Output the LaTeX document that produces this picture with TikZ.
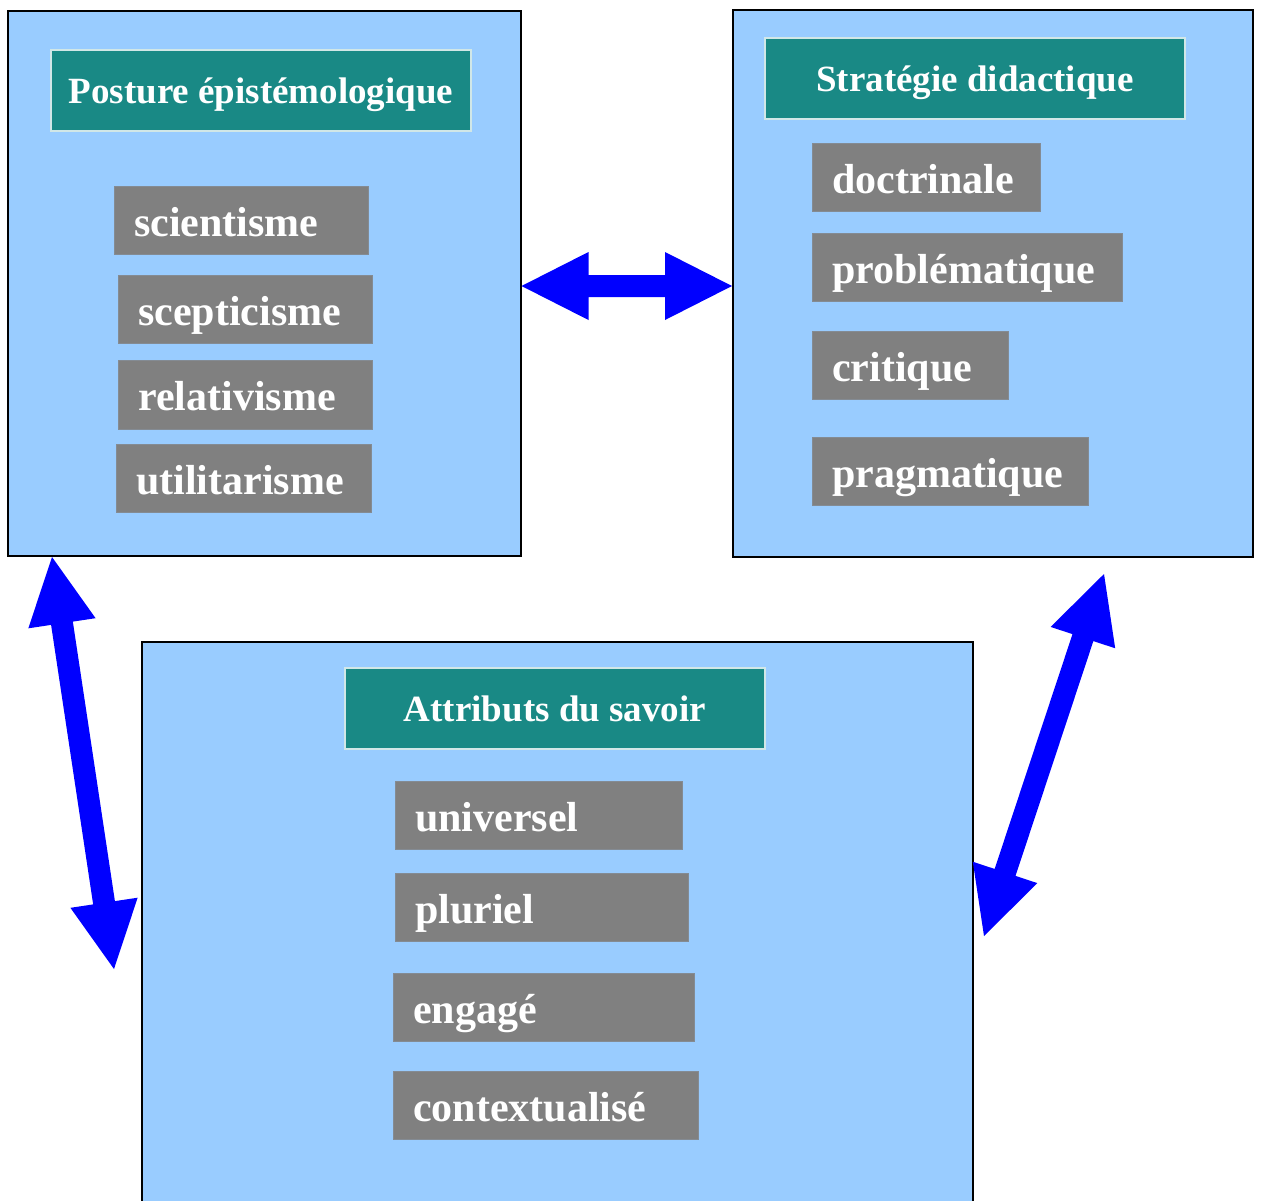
\documentclass[tikz,border=0pt]{standalone}
\usepackage{fontspec}
\setmainfont{Liberation Serif}
\usetikzlibrary{calc,positioning}
\definecolor{panelblue}{HTML}{99CCFF}
\definecolor{tealbox}{HTML}{198985}
\definecolor{grayboxc}{HTML}{808080}
\definecolor{arrowblue}{HTML}{0000FF}
\tikzset{
  panel/.style={draw=black, line width=2pt, fill=panelblue, anchor=north west, inner sep=0pt, outer sep=0pt},
  titlebox/.style={draw=white!80!tealbox, line width=1.2pt, fill=tealbox, minimum width=420pt, minimum height=81pt,
    inner sep=0pt, text=white, font=\fontsize{37}{40}\selectfont\bfseries, text height=25pt, text depth=0pt},
  graybox/.style={draw=grayboxc!85!panelblue, line width=0.8pt, fill=grayboxc, inner sep=0pt, outer sep=0pt},
  graytext/.style={anchor=base west, inner sep=0pt, text=white, font=\fontsize{42}{46}\selectfont\bfseries},
  blockarrow/.style={fill=arrowblue, draw=none}
}
\newcommand{\gbox}[6]{%
  \node[graybox, minimum width={#4-#2}, minimum height={#5-#3}] (#1) at ({(#2+#4)/2},{(#3+#5)/2}) {};
  \node[graytext] (#1t) at ($(#1.west)+(20,16)$) {#6};}
% block arrow between two named coordinates
\newcommand{\barrow}[2]{%
  \coordinate (ha) at ($(#1)!67pt!(#2)$);
  \coordinate (hb) at ($(#2)!67pt!(#1)$);
  \path[blockarrow] (#1) -- ($(ha)!34pt!90:(#1)$) -- ($(ha)!11pt!90:(#1)$)
    -- ($(hb)!11pt!-90:(#2)$) -- ($(hb)!34pt!-90:(#2)$) -- (#2)
    -- ($(hb)!34pt!90:(#2)$) -- ($(hb)!11pt!90:(#2)$)
    -- ($(ha)!11pt!-90:(#1)$) -- ($(ha)!34pt!-90:(#1)$) -- cycle;}
\begin{document}
\begin{tikzpicture}[x=1pt,y=-1pt]
\useasboundingbox (0,0) rectangle (1261,1200);
\clip (0,0) rectangle (1261,1200);
% panels
\node[panel, minimum width=513pt, minimum height=545pt] (L) at (8,11) {};
\node[panel, minimum width=520pt, minimum height=547pt] (R) at (733,10) {};
\node[panel, minimum width=831pt, minimum height=580pt] (B) at (142,642) {};
% titles
\node[titlebox] (Lt) at (261,90.5) {Posture épistémologique};
\node[titlebox] (Rt) at (975,78.5) {Stratégie didactique};
\node[titlebox] (Bt) at (555,708.5) {Attributs du savoir};
% left items
\gbox{l1}{114}{186}{368}{254}{scientisme}
\gbox{l2}{118}{275}{372}{343}{scepticisme}
\gbox{l3}{118}{360}{372}{429}{relativisme}
\gbox{l4}{116}{444}{371}{512}{utilitarisme}
% right items
\gbox{r1}{812}{143}{1040}{211}{doctrinale}
\gbox{r2}{812}{233}{1122}{301}{problématique}
\gbox{r3}{812}{331}{1008}{399}{critique}
\gbox{r4}{812}{437}{1088}{505}{pragmatique}
% bottom items
\gbox{b1}{395}{781}{682}{849}{universel}
\gbox{b2}{395}{873}{688}{941}{pluriel}
\gbox{b3}{393}{973}{694}{1041}{engagé}
\gbox{b4}{393}{1071}{698}{1139}{contextualisé}
% arrow end points
\coordinate (h1) at ($(L.east)+(0.5,2.5)$);
\coordinate (h2) at ($(R.west)+(-1,2.5)$);
\coordinate (v1) at ($(L.south west)+(44,1)$);
\coordinate (v2) at (114,969);
\coordinate (d1) at (1104,574);
\coordinate (d2) at (984,936);
\barrow{h1}{h2}
\barrow{v1}{v2}
\barrow{d1}{d2}
\end{tikzpicture}
\end{document}
